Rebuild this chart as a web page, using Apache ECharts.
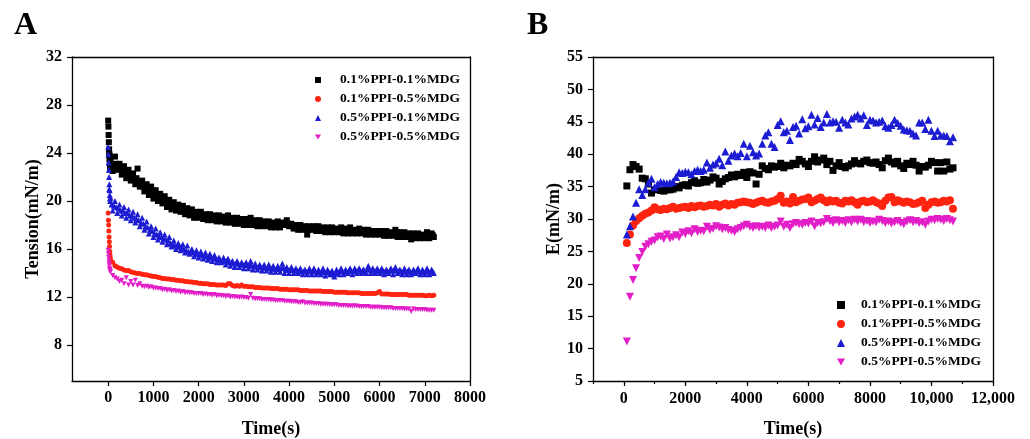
<!DOCTYPE html>
<html><head><meta charset="utf-8">
<script src="https://cdn.jsdelivr.net/npm/echarts@6/dist/echarts.min.js"></script>
<style>html,body{margin:0;padding:0;background:#fff}#c{width:1030px;height:439px}</style>
</head><body><div id="c"></div><script>
// ---------- Panel A data (Tension vs time) ----------
const timesA = [0,5,10,15,20,25,30,35,40,45,
 50,100,150,200,250,300,350,400,450,500,
 550,600,650,700,750,800,850,900,950,1000,
 1050,1100,1150,1200,1250,1300,1350,1400,1450,1500,
 1550,1600,1650,1700,1750,1800,1850,1900,1950,2000,
 2050,2100,2150,2200,2250,2300,2350,2400,2450,2500,
 2550,2600,2650,2700,2750,2800,2850,2900,2950,3000,
 3050,3100,3150,3200,3250,3300,3350,3400,3450,3500,
 3550,3600,3650,3700,3750,3800,3850,3900,3950,4000,
 4050,4100,4150,4200,4250,4300,4350,4400,4450,4500,
 4550,4600,4650,4700,4750,4800,4850,4900,4950,5000,
 5050,5100,5150,5200,5250,5300,5350,5400,5450,5500,
 5550,5600,5650,5700,5750,5800,5850,5900,5950,6000,
 6050,6100,6150,6200,6250,6300,6350,6400,6450,6500,
 6550,6600,6650,6700,6750,6800,6850,6900,6950,7000,
 7050,7100,7150,7200];
const tensionPPI01MDG01 = [26.7,26.2,25.5,24.9,24.3,23.9,23.5,23.2,22.9,22.6,
 23.4,22.5,23.7,22.6,23.1,22.2,22.9,21.9,22.6,21.7,
 22.3,21.4,22.7,21.2,21.7,20.8,21.4,20.5,21.2,20.2,
 20.9,20.0,20.6,19.8,20.4,19.5,20.1,19.3,19.9,19.2,
 19.7,19.1,19.6,18.9,19.4,18.8,19.3,18.6,19.1,18.6,
 19.1,18.5,18.9,18.4,18.9,18.4,18.8,18.3,18.8,18.3,
 18.7,18.2,18.8,18.2,18.6,18.1,18.6,18.1,18.5,18.0,
 18.5,18.0,18.6,18.0,18.4,17.9,18.4,17.9,18.3,17.9,
 18.3,17.8,18.2,17.8,18.3,17.8,18.2,18.0,18.4,17.9,
 18.1,17.7,18.0,17.6,18.0,17.6,17.9,17.2,17.9,17.6,
 17.9,17.5,17.9,17.5,17.8,17.4,17.8,17.4,17.8,17.4,
 17.7,17.4,17.8,17.3,17.7,17.3,17.8,17.3,17.6,17.3,
 17.7,17.3,17.6,17.2,17.6,17.2,17.5,17.2,17.5,17.2,
 17.5,17.1,17.5,17.1,17.4,17.1,17.6,17.0,17.4,17.0,
 17.4,17.0,17.3,16.8,17.3,16.9,17.3,16.9,17.2,16.9,
 17.4,16.9,17.3,17.0];
const tensionPPI01MDG05 = [19.0,18.4,18.0,17.5,17.0,16.6,16.2,15.8,15.5,15.3,
 15.1,14.9,14.6,14.5,14.4,14.35,14.25,14.2,14.2,14.1,
 14.05,14.0,13.95,13.95,13.9,13.85,13.85,13.8,13.75,13.7,
 13.7,13.65,13.6,13.55,13.55,13.5,13.5,13.45,13.45,13.4,
 13.4,13.35,13.35,13.3,13.3,13.25,13.25,13.2,13.2,13.15,
 13.15,13.1,13.1,13.1,13.05,13.05,13.05,13.0,13.0,13.0,
 13.0,12.95,13.1,13.1,12.95,12.9,12.95,12.9,13.0,12.9,
 12.9,12.85,12.85,12.85,12.8,12.8,12.8,12.75,12.75,12.75,
 12.75,12.7,12.7,12.7,12.7,12.65,12.65,12.65,12.65,12.6,
 12.6,12.6,12.6,12.6,12.55,12.55,12.55,12.55,12.5,12.5,
 12.5,12.5,12.5,12.5,12.45,12.45,12.45,12.45,12.45,12.4,
 12.4,12.4,12.4,12.4,12.4,12.35,12.35,12.35,12.35,12.35,
 12.35,12.3,12.3,12.3,12.3,12.3,12.3,12.3,12.35,12.45,
 12.25,12.25,12.25,12.25,12.2,12.2,12.2,12.2,12.2,12.2,
 12.2,12.2,12.15,12.15,12.15,12.15,12.15,12.15,12.15,12.1,
 12.1,12.15,12.1,12.15];
const tensionPPI05MDG01 = [24.5,23.9,23.2,22.6,22.0,21.4,20.9,20.5,20.2,20.0,
 20.3,19.2,20.0,19.0,19.7,18.8,19.5,18.6,19.3,18.4,
 19.1,18.2,18.9,17.9,18.6,17.6,18.3,17.3,17.9,17.0,
 17.7,16.8,17.4,16.6,17.2,16.4,17.0,16.2,16.7,16.0,
 16.5,15.9,16.4,15.7,16.3,15.6,16.0,15.4,15.9,15.3,
 15.8,15.2,15.7,15.1,15.6,15.0,15.5,14.9,15.3,14.9,
 15.3,14.7,15.2,14.6,15.0,14.5,15.0,14.5,14.9,14.4,
 14.9,14.4,15.0,14.3,14.8,14.3,14.7,14.2,14.7,14.2,
 14.7,14.1,14.6,14.1,14.6,14.1,14.8,14.0,14.5,14.0,
 14.5,14.0,14.4,14.0,14.4,13.9,14.3,13.9,14.4,13.9,
 14.4,13.9,14.3,13.9,14.4,13.8,14.3,13.9,14.2,13.7,
 14.3,13.9,14.4,13.9,14.3,14.0,14.4,13.9,14.4,14.0,
 14.4,14.0,14.3,14.0,14.6,14.0,14.4,14.0,14.4,14.0,
 14.4,13.9,14.3,14.0,14.4,13.9,14.5,14.0,14.3,13.9,
 14.4,13.9,14.3,13.9,14.3,14.0,14.4,13.9,14.3,13.9,
 14.4,13.9,14.3,14.0];
const tensionPPI05MDG05 = [15.9,15.6,15.3,15.0,14.8,14.6,14.4,14.3,14.2,14.1,
 14.1,13.8,13.6,13.5,13.3,13.4,13.1,13.6,13.0,13.3,
 13.0,13.4,12.95,13.1,12.9,12.85,12.9,12.8,12.85,12.75,
 12.75,12.7,12.7,12.6,12.65,12.55,12.6,12.5,12.55,12.45,
 12.5,12.4,12.45,12.35,12.4,12.35,12.35,12.3,12.3,12.3,
 12.3,12.2,12.25,12.2,12.2,12.15,12.2,12.1,12.15,12.1,
 12.1,12.05,12.1,12.0,12.05,12.0,12.0,11.95,12.0,11.95,
 11.95,11.9,12.2,11.9,11.85,11.85,11.85,11.8,11.8,11.8,
 11.8,11.75,11.75,11.7,11.7,11.7,11.7,11.65,11.65,11.65,
 11.6,11.6,11.6,11.55,11.55,11.6,11.5,11.5,11.5,11.5,
 11.45,11.45,11.45,11.4,11.4,11.4,11.4,11.35,11.35,11.35,
 11.35,11.3,11.3,11.3,11.3,11.25,11.25,11.25,11.25,11.25,
 11.2,11.2,11.2,11.2,11.2,11.15,11.15,11.15,11.15,11.15,
 11.1,11.1,11.1,11.1,11.1,11.05,11.05,11.05,11.05,11.05,
 11.0,11.0,11.0,10.8,11.0,10.95,10.95,10.95,10.95,10.95,
 10.9,10.9,10.9,10.9];
// intermediate readings (t = 25, 75, ... 7175) for the two broad bands
const timesAmid = [25,
 75,125,175,225,275,325,375,425,475,525,
 575,625,675,725,775,825,875,925,975,1025,
 1075,1125,1175,1225,1275,1325,1375,1425,1475,1525,
 1575,1625,1675,1725,1775,1825,1875,1925,1975,2025,
 2075,2125,2175,2225,2275,2325,2375,2425,2475,2525,
 2575,2625,2675,2725,2775,2825,2875,2925,2975,3025,
 3075,3125,3175,3225,3275,3325,3375,3425,3475,3525,
 3575,3625,3675,3725,3775,3825,3875,3925,3975,4025,
 4075,4125,4175,4225,4275,4325,4375,4425,4475,4525,
 4575,4625,4675,4725,4775,4825,4875,4925,4975,5025,
 5075,5125,5175,5225,5275,5325,5375,5425,5475,5525,
 5575,5625,5675,5725,5775,5825,5875,5925,5975,6025,
 6075,6125,6175,6225,6275,6325,6375,6425,6475,6525,
 6575,6625,6675,6725,6775,6825,6875,6925,6975,7025,
 7075,7125,7175];
const tensionPPI01MDG01mid = [23.8,
 23.0,22.9,23.1,22.7,22.8,22.4,22.5,22.1,22.2,21.9,
 21.8,21.9,21.5,21.5,21.2,21.1,20.9,20.9,20.6,20.6,
 20.5,20.3,20.2,20.0,19.9,19.8,19.7,19.6,19.5,19.4,
 19.4,19.3,19.3,19.1,19.1,19.0,18.9,18.9,18.8,18.8,
 18.8,18.7,18.7,18.7,18.6,18.6,18.6,18.5,18.5,18.5,
 18.45,18.5,18.45,18.4,18.4,18.35,18.3,18.3,18.3,18.25,
 18.25,18.3,18.2,18.2,18.15,18.15,18.1,18.1,18.1,18.05,
 18.05,18.0,18.0,18.0,18.0,18.0,18.1,18.2,18.1,18.0,
 17.9,17.85,17.8,17.8,17.8,17.75,17.7,17.6,17.7,17.7,
 17.7,17.7,17.65,17.65,17.6,17.6,17.6,17.6,17.6,17.55,
 17.55,17.55,17.5,17.5,17.5,17.5,17.5,17.45,17.45,17.45,
 17.45,17.4,17.4,17.4,17.4,17.35,17.35,17.35,17.35,17.3,
 17.3,17.3,17.3,17.25,17.25,17.35,17.4,17.2,17.2,17.2,
 17.2,17.15,17.1,17.0,17.1,17.1,17.1,17.05,17.05,17.05,
 17.1,17.1,17.15];
const tensionPPI05MDG01mid = [21.0,
 19.7,19.6,19.5,19.4,19.2,19.2,19.0,19.0,18.8,18.8,
 18.6,18.5,18.4,18.2,18.1,17.9,17.8,17.6,17.5,17.3,
 17.2,17.1,17.0,16.9,16.8,16.7,16.5,16.4,16.3,16.2,
 16.2,16.1,16.0,15.9,15.8,15.8,15.7,15.6,15.6,15.5,
 15.5,15.4,15.4,15.3,15.3,15.2,15.2,15.1,15.1,15.0,
 15.0,15.0,14.9,14.9,14.8,14.8,14.8,14.7,14.7,14.7,
 14.65,14.7,14.6,14.55,14.55,14.5,14.5,14.45,14.45,14.4,
 14.4,14.4,14.35,14.35,14.35,14.4,14.45,14.3,14.25,14.25,
 14.25,14.2,14.2,14.2,14.15,14.15,14.1,14.15,14.15,14.15,
 14.15,14.1,14.1,14.1,14.1,14.05,14.1,14.0,13.9,14.0,
 14.1,14.15,14.15,14.1,14.15,14.2,14.15,14.15,14.2,14.2,
 14.2,14.2,14.15,14.3,14.3,14.2,14.2,14.2,14.2,14.2,
 14.15,14.15,14.15,14.2,14.2,14.25,14.2,14.15,14.15,14.1,
 14.15,14.15,14.1,14.1,14.15,14.2,14.15,14.1,14.1,14.1,
 14.15,14.1,14.15];
const tickA_x = [0,1000,2000,3000,4000,5000,6000,7000,8000];
const tickA_y = [8,12,16,20,24,28,32];

// ---------- Panel B data (E vs time) ----------
const timesB = [100,200,300,400,500,600,700,800,900,1000,
 1100,1200,1300,1400,1500,1600,1700,1800,1900,2000,
 2100,2200,2300,2400,2500,2600,2700,2800,2900,3000,
 3100,3200,3300,3400,3500,3600,3700,3800,3900,4000,
 4100,4200,4300,4400,4500,4600,4700,4800,4900,5000,
 5100,5200,5300,5400,5500,5600,5700,5800,5900,6000,
 6100,6200,6300,6400,6500,6600,6700,6800,6900,7000,
 7100,7200,7300,7400,7500,7600,7700,7800,7900,8000,
 8100,8200,8300,8400,8500,8600,8700,8800,8900,9000,
 9100,9200,9300,9400,9500,9600,9700,9800,9900,10000,
 10100,10200,10300,10400,10500,10600,10700];
const ePPI01MDG01 = [35.1,37.6,38.4,38.1,37.7,36.3,36.2,35.4,34.0,34.5,
 34.6,34.4,34.3,34.5,34.5,34.6,35.0,34.8,35.2,35.3,
 35.1,35.6,35.9,35.5,35.6,36.1,35.7,36.0,36.5,36.3,
 35.4,35.8,36.2,36.4,36.8,36.5,36.9,36.7,37.2,36.4,
 37.3,37.1,35.4,36.9,38.2,37.8,37.6,38.2,38.0,38.1,
 38.6,37.9,38.3,38.2,38.6,38.4,39.2,38.9,38.5,38.1,
 38.9,39.6,38.8,39.1,39.4,38.4,38.9,37.5,38.2,38.7,
 38.1,37.9,38.2,38.5,39.0,38.6,38.5,38.9,39.1,38.7,
 38.6,38.8,38.4,37.9,39.0,39.4,38.8,38.5,38.9,38.2,
 37.8,38.6,38.4,38.9,38.3,37.4,38.1,38.0,38.3,38.9,
 38.7,37.4,38.7,37.4,38.8,37.7,37.9];
const ePPI01MDG05 = [26.3,27.6,29.0,29.7,30.1,30.5,30.8,31.0,31.3,31.8,
 31.5,31.4,31.6,31.5,31.7,31.9,31.6,31.7,31.8,31.9,
 31.7,32.0,31.8,32.0,32.1,31.9,32.0,32.2,32.1,32.3,
 31.9,32.2,32.4,32.1,32.3,32.2,32.5,32.6,32.7,32.6,
 32.5,32.3,32.5,32.7,32.8,32.6,32.5,32.7,32.8,33.1,
 33.6,32.5,32.7,32.4,33.4,32.6,32.8,33.0,33.1,33.3,
 32.6,32.8,33.1,33.3,32.9,32.6,32.9,32.7,32.8,32.5,
 32.4,32.8,32.7,32.9,32.6,32.2,32.7,32.8,32.6,32.7,
 32.9,32.6,32.4,32.0,32.8,33.3,33.4,32.6,32.9,32.7,
 32.5,32.7,32.6,32.3,32.4,32.6,32.8,31.7,32.2,32.6,
 32.7,32.5,32.6,32.8,32.7,32.9,31.6];
const ePPI05MDG01 = [27.6,28.9,30.4,32.5,34.6,33.7,34.6,35.6,36.2,34.9,
 35.4,35.7,35.6,35.5,35.6,35.8,36.5,37.2,37.1,37.3,
 37.2,36.9,37.4,37.6,37.4,37.6,38.7,37.9,38.4,38.6,
 39.3,38.3,40.4,39.0,39.8,40.1,39.7,40.2,41.6,39.7,
 41.3,40.3,39.8,40.1,41.6,42.9,43.4,41.6,41.1,44.5,
 45.1,43.4,43.6,42.2,44.2,44.4,43.2,45.4,44.0,44.3,
 46.1,44.6,45.6,44.2,44.9,46.2,44.9,45.1,45.0,44.1,
 45.3,44.9,44.6,45.5,45.8,46.1,45.5,46.0,44.5,45.3,
 45.2,44.9,45.0,45.2,44.3,44.1,44.5,45.3,44.8,44.4,
 43.8,43.7,43.6,43.2,42.9,44.9,44.9,43.9,45.3,43.6,
 42.8,43.6,42.9,42.9,42.8,42.0,42.6];
const ePPI05MDG05 = [11.1,18.0,20.6,22.4,24.0,24.9,25.7,26.1,26.5,26.7,
 27.2,27.3,26.9,27.6,27.0,27.2,27.5,27.2,27.9,27.7,
 28.1,27.8,28.4,28.0,28.2,28.1,28.8,28.3,28.5,28.9,
 28.7,28.4,28.6,28.3,28.2,28.0,28.4,28.6,28.9,29.1,
 28.8,28.6,28.9,28.7,28.8,28.6,29.0,28.6,28.8,29.0,
 29.6,28.8,29.1,28.6,29.2,29.4,29.2,29.1,29.4,29.3,
 29.6,28.9,29.4,29.3,29.5,30.0,29.7,29.4,29.8,29.5,
 29.7,29.4,29.8,29.5,29.9,29.6,29.9,29.5,29.7,29.4,
 29.6,29.5,29.9,29.7,29.4,29.6,29.3,29.5,29.7,29.4,
 29.2,29.6,29.8,29.5,29.7,29.4,29.5,29.1,29.6,29.9,
 29.8,30.0,29.9,29.7,30.0,29.8,29.6];
const tickB_xMajor = [0,2000,4000,6000,8000,10000,12000];

const names = ['0.1%PPI-0.1%MDG','0.1%PPI-0.5%MDG','0.5%PPI-0.1%MDG','0.5%PPI-0.5%MDG'];
const colors = ['#000000','#ff2410','#1c1cd2','#e21ec8'];
const invTri = 'path://M0,0L10,0L5,8.66Z';
const symbols = ['rect','circle','triangle',invTri];

const FF = '"Liberation Serif","Times New Roman",serif';
const pair = (ts, vs) => ts.map((t,i)=>[t, vs[i]]);
const dataA = [
  pair(timesA, tensionPPI01MDG01).concat(pair(timesAmid, tensionPPI01MDG01mid)),
  pair(timesA, tensionPPI01MDG05),
  pair(timesA, tensionPPI05MDG01).concat(pair(timesAmid, tensionPPI05MDG01mid)),
  pair(timesA, tensionPPI05MDG05)
];
const seriesB = [ePPI01MDG01, ePPI01MDG05, ePPI05MDG01, ePPI05MDG05];
const sizesA = [6,5,6,5];
const sizesB = [7,8,8,8];

const axisCommon = {
  axisLine:{show:true, onZero:false, lineStyle:{color:'#000', width:1.3}},
  axisTick:{show:true, inside:false, length:5, lineStyle:{color:'#000', width:1.2}},
  splitLine:{show:false},
  nameTextStyle:{fontFamily:FF, fontWeight:'bold', fontSize:18, color:'#000'},
};
const lblStyle = {fontFamily:FF, fontWeight:'bold', fontSize:16, color:'#000'};
const frameAxis = (extra) => Object.assign({type:'value', axisLine:{show:true, onZero:false, lineStyle:{color:'#000', width:1.3}},
  axisTick:{show:false}, axisLabel:{show:false}, splitLine:{show:false}}, extra);

const chart = echarts.init(document.getElementById('c'), null, {renderer:'canvas'});
const option = {
  animation:false,
  backgroundColor:'#fff',
  grid:[
    {left:72, top:57, width:398, height:324, containLabel:false, outerBoundsMode:'none'},
    {left:593, top:57, width:400, height:324, containLabel:false, outerBoundsMode:'none'}
  ],
  xAxis:[
    Object.assign({}, axisCommon, {gridIndex:0, type:'value', min:-800, max:8000,
      name:'Time(s)', nameLocation:'middle', nameGap:39,
      axisTick:Object.assign({}, axisCommon.axisTick, {customValues:tickA_x}),
      axisLabel:Object.assign({}, lblStyle, {margin:9, customValues:tickA_x, formatter:(v)=>String(v)})}),
    Object.assign({}, axisCommon, {gridIndex:1, type:'value', min:-1000, max:12000, interval:1000,
      name:'Time(s)', nameLocation:'middle', nameGap:39,
      axisTick:Object.assign({}, axisCommon.axisTick, {length:3}),
      axisLabel:Object.assign({}, lblStyle, {margin:10, showMinLabel:true, showMaxLabel:true,
        formatter:(v)=>{ if (v<0 || (v/1000)%2!==0) return ''; return v>=10000 ? (v/1000)+',000' : String(v);} })}),
    frameAxis({gridIndex:0, position:'top', min:-800, max:8000}),
    frameAxis({gridIndex:1, position:'top', min:-1000, max:12000}),
    // longer major ticks at even thousands on panel B
    {gridIndex:1, type:'value', position:'bottom', min:-1000, max:12000,
      axisLine:{show:false}, axisLabel:{show:false}, splitLine:{show:false},
      axisTick:{show:true, inside:false, length:5, customValues:tickB_xMajor, lineStyle:{color:'#000', width:1.2}}}
  ],
  yAxis:[
    Object.assign({}, axisCommon, {gridIndex:0, type:'value', min:5, max:32,
      name:'Tension(mN/m)', nameLocation:'middle', nameGap:30,
      axisTick:Object.assign({}, axisCommon.axisTick, {customValues:tickA_y}),
      axisLabel:Object.assign({}, lblStyle, {margin:10, customValues:tickA_y})}),
    Object.assign({}, axisCommon, {gridIndex:1, type:'value', min:5, max:55, interval:5,
      name:'E(mN/m)', nameLocation:'middle', nameGap:30,
      axisLabel:Object.assign({}, lblStyle, {margin:10})}),
    frameAxis({gridIndex:0, position:'right', min:5, max:32}),
    frameAxis({gridIndex:1, position:'right', min:5, max:55})
  ],
  legend:[
    {left:315, top:72, orient:'vertical', padding:0, itemWidth:6, itemHeight:6, itemGap:3,
     selectedMode:false,
     data:names.map((n,i)=>({name:n, icon:symbols[i]})),
     textStyle:{fontFamily:FF, fontWeight:'bold', fontSize:13.5, color:'#000', lineHeight:16, padding:[0,0,0,14]}},
    {left:837, top:297, orient:'vertical', padding:0, itemWidth:8, itemHeight:8, itemGap:3,
     selectedMode:false,
     data:names.map((n,i)=>({name:n, icon:symbols[i]})),
     textStyle:{fontFamily:FF, fontWeight:'bold', fontSize:13.5, color:'#000', lineHeight:16, padding:[0,0,0,11]}}
  ],
  graphic:[
    {type:'text', x:14, y:26, style:{text:'A', font:'bold 32px '+FF, fill:'#000', verticalAlign:'middle'}},
    {type:'text', x:527, y:26, style:{text:'B', font:'bold 32px '+FF, fill:'#000', verticalAlign:'middle'}}
  ],
  series:[]
};
dataA.forEach((d,i)=>{
  option.series.push({type:'scatter', name:names[i], xAxisIndex:0, yAxisIndex:0,
    symbol:symbols[i], symbolSize:sizesA[i], itemStyle:{color:colors[i], opacity:1},
    data:d, silent:true, large:false});
});
seriesB.forEach((vals,i)=>{
  option.series.push({type:'scatter', name:names[i], xAxisIndex:1, yAxisIndex:1,
    symbol:symbols[i], symbolSize:sizesB[i], itemStyle:{color:colors[i], opacity:1},
    data:pair(timesB, vals), silent:true});
});
chart.setOption(option);
</script></body></html>
